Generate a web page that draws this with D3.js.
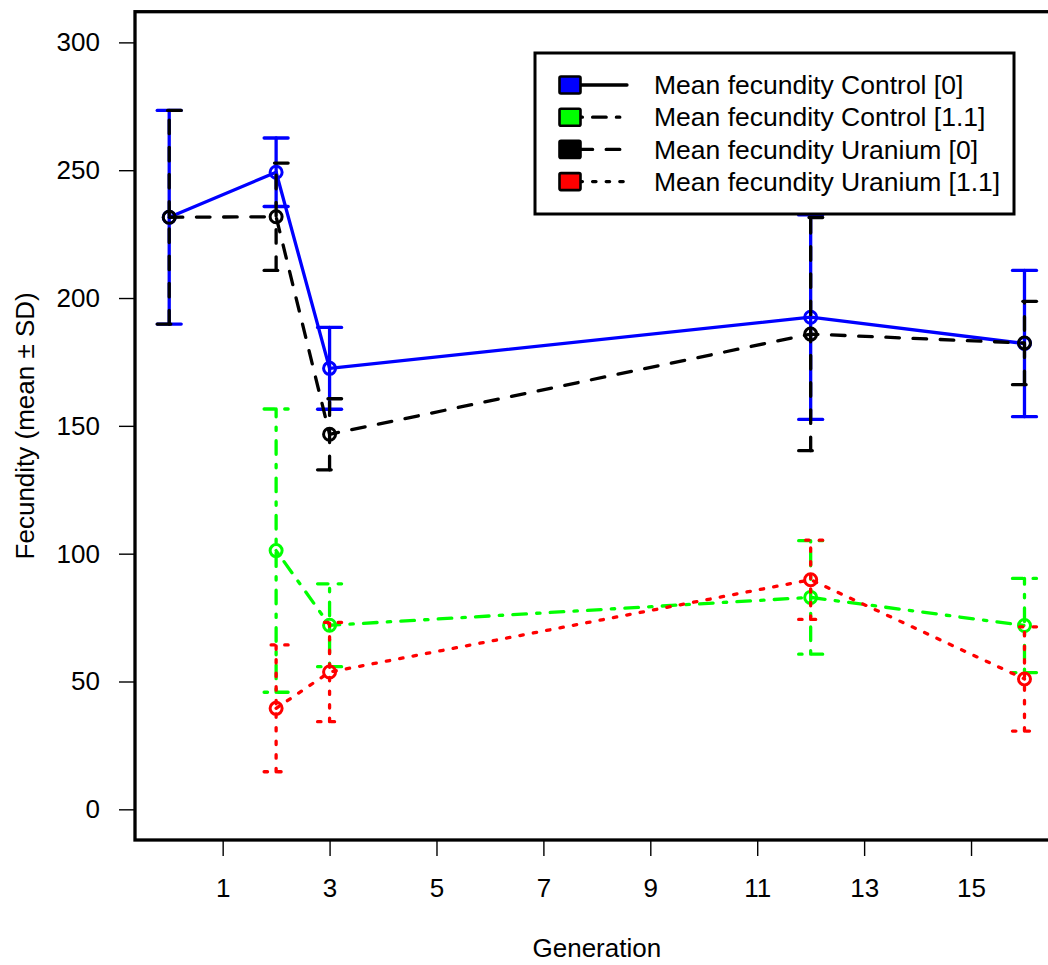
<!DOCTYPE html>
<html>
<head>
<meta charset="utf-8">
<script src="https://cdn.jsdelivr.net/npm/d3@7"></script>
<style>
  html, body { margin: 0; padding: 0; background: #ffffff; }
  svg { display: block; }
  text { font-family: "Liberation Sans", Arial, Helvetica, sans-serif; fill: #000; }
</style>
</head>
<body>
<svg id="chart" width="1048" height="965"></svg>
<script>
// ---------------- data ----------------
const generations0 = [0, 2, 3, 12, 16];
const generations11 = [2, 3, 12, 16];

const controlMean0 = [231.6, 249.2, 172.5, 192.5, 182.2];
const controlSD0   = [41.8, 13.4, 16.0, 40.0, 28.6];

const uraniumMean0 = [231.6, 231.8, 146.7, 185.9, 182.4];
const uraniumSD0   = [41.8, 21.0, 13.9, 45.6, 16.3];

const controlMean11 = [101.2, 72.0, 82.9, 71.9];
const controlSD11   = [55.4, 16.2, 22.2, 18.4];

const uraniumMean11 = [39.5, 53.7, 89.8, 51.0];
const uraniumSD11   = [24.8, 19.4, 15.5, 20.4];

const xTicks = [1, 3, 5, 7, 9, 11, 13, 15];
const yTicks = [0, 50, 100, 150, 200, 250, 300];

const seriesNames = [
  "Mean fecundity Control [0]",
  "Mean fecundity Control [1.1]",
  "Mean fecundity Uranium [0]",
  "Mean fecundity Uranium [1.1]"
];
const seriesColors = ["#0000ff", "#00ff00", "#000000", "#ff0000"];
const seriesLty = ["solid", "dotdash", "dashed", "dotted"];

// ---------------- setup ----------------
const svg = d3.select("#chart");
svg.append("rect").attr("width", 1048).attr("height", 965).attr("fill", "#fff");

const x = d3.scaleLinear().domain([-0.64, 16.64]).range([135, 1058.7]);
const y = d3.scaleLinear().domain([-12, 312]).range([840, 11.7]);

const U = 3.4;
const LW = 3.3;
function dash(lty) {
  if (lty === "dashed") return [4 * U, 4 * U].join(",");
  if (lty === "dotted") return [1 * U, 3 * U].join(",");
  if (lty === "dotdash") return [1 * U, 3 * U, 4 * U, 3 * U].join(",");
  return null;
}

const series = [
  { gen: generations0,  mean: controlMean0,  sd: controlSD0,  idx: 0 },
  { gen: generations0,  mean: uraniumMean0,  sd: uraniumSD0,  idx: 2 },
  { gen: generations11, mean: controlMean11, sd: controlSD11, idx: 1 },
  { gen: generations11, mean: uraniumMean11, sd: uraniumSD11, idx: 3 }
];

const plot = svg.append("g");
const capHalf = 12;

series.forEach(s => {
  const col = seriesColors[s.idx];
  const da = dash(seriesLty[s.idx]);
  const pts = s.gen.map((g, i) => ({ g, m: s.mean[i], sd: s.sd[i] }));
  const g = plot.append("g");

  // error bars (arrows with angle 90, code 3)
  pts.forEach(p => {
    const cx = x(p.g), lo = y(p.m - p.sd), hi = y(p.m + p.sd);
    const segs = [
      [[cx, lo], [cx, hi]],
      [[cx - capHalf, lo], [cx, lo], [cx + capHalf, lo]],
      [[cx + capHalf, hi], [cx, hi], [cx - capHalf, hi]]
    ];
    segs.forEach(sg => {
      g.append("path")
        .attr("d", d3.line()(sg))
        .attr("fill", "none")
        .attr("stroke", col)
        .attr("stroke-width", LW)
        .attr("stroke-linecap", "round")
        .attr("stroke-linejoin", "round")
        .attr("stroke-dasharray", da);
    });
  });

  // connecting line
  g.append("path")
    .datum(pts)
    .attr("d", d3.line().x(d => x(d.g)).y(d => y(d.m)))
    .attr("fill", "none")
    .attr("stroke", col)
    .attr("stroke-width", LW)
    .attr("stroke-linecap", "round")
    .attr("stroke-linejoin", "round")
    .attr("stroke-dasharray", da);

  // points (open circles)
  g.selectAll("circle").data(pts).join("circle")
    .attr("cx", d => x(d.g))
    .attr("cy", d => y(d.m))
    .attr("r", 6)
    .attr("fill", "none")
    .attr("stroke", col)
    .attr("stroke-width", 3);
});

// ---------------- axes ----------------
const yAxis = svg.append("g")
  .attr("transform", `translate(${x.range()[0]},0)`)
  .call(d3.axisLeft(y).tickValues(yTicks).tickSize(16).tickPadding(19).tickFormat(d3.format("d")));
yAxis.select(".domain").remove();
yAxis.selectAll(".tick line").attr("stroke", "#000").attr("stroke-width", 1.4);
yAxis.selectAll(".tick text").attr("font-size", 26).attr("font-family", "Liberation Sans, Arial, sans-serif").attr("fill", "#000");

const xAxis = svg.append("g")
  .attr("transform", `translate(0,${y.range()[0]})`)
  .call(d3.axisBottom(x).tickValues(xTicks).tickSize(16).tickPadding(23).tickFormat(d3.format("d")));
xAxis.select(".domain").remove();
xAxis.selectAll(".tick line").attr("stroke", "#000").attr("stroke-width", 1.4);
xAxis.selectAll(".tick text").attr("font-size", 26).attr("font-family", "Liberation Sans, Arial, sans-serif").attr("fill", "#000");

// plot box
svg.append("rect")
  .attr("x", x.range()[0])
  .attr("y", y.range()[1])
  .attr("width", x.range()[1] - x.range()[0])
  .attr("height", y.range()[0] - y.range()[1])
  .attr("fill", "none")
  .attr("stroke", "#000")
  .attr("stroke-width", 3.3);

// axis titles
svg.append("text")
  .attr("x", (x.range()[0] + x.range()[1]) / 2)
  .attr("y", 957)
  .attr("text-anchor", "middle")
  .attr("font-size", 26)
  .text("Generation");

svg.append("text")
  .attr("transform", `translate(33.5,${(y.range()[0] + y.range()[1]) / 2}) rotate(-90)`)
  .attr("text-anchor", "middle")
  .attr("font-size", 26)
  .text("Fecundity (mean ± SD)");

// ---------------- legend ----------------
const lg = svg.append("g");
lg.append("rect")
  .attr("x", 535).attr("y", 53).attr("width", 479).attr("height", 161)
  .attr("fill", "#fff").attr("stroke", "#000").attr("stroke-width", 3);

seriesNames.forEach((name, i) => {
  const cy = 85 + i * 32.2;
  lg.append("line")
    .attr("x1", 579).attr("x2", 627).attr("y1", cy).attr("y2", cy)
    .attr("stroke", "#000").attr("stroke-width", LW)
    .attr("stroke-linecap", "round")
    .attr("stroke-dasharray", dash(seriesLty[i]));
  lg.append("rect")
    .attr("x", 559.5).attr("y", cy - 8.5).attr("width", 21).attr("height", 17)
    .attr("rx", 1.5)
    .attr("fill", seriesColors[i]).attr("stroke", "#000").attr("stroke-width", 2.6);
  lg.append("text")
    .attr("x", 654).attr("y", cy).attr("dy", "0.35em")
    .attr("font-size", 26.5)
    .text(name);
});
</script>
</body>
</html>
